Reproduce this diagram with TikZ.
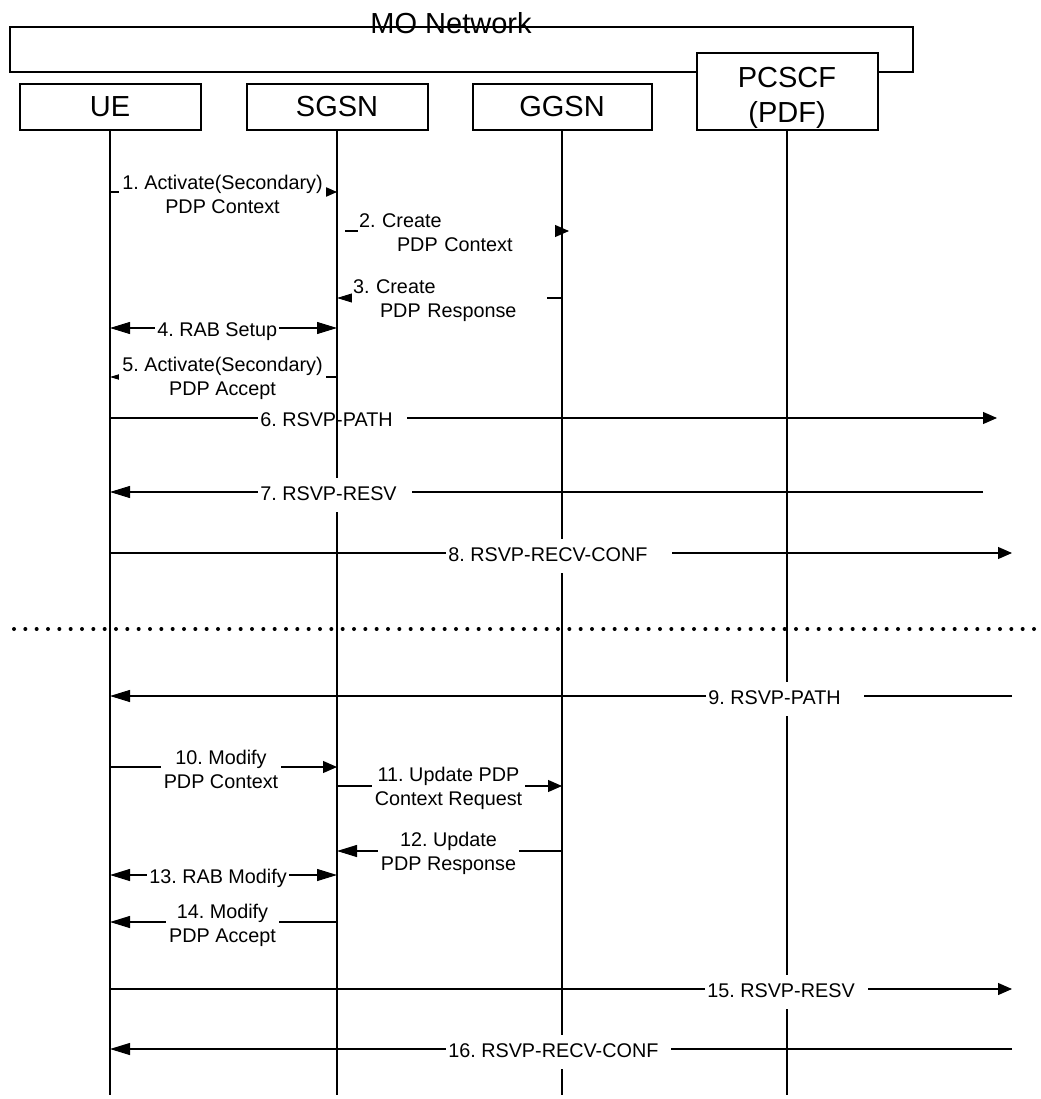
\documentclass[tikz,border=0pt]{standalone}
\usepackage{fontspec}
\setmainfont{Liberation Sans}
\usetikzlibrary{arrows.meta}
\frenchspacing
\begin{document}
\frenchspacing
\begin{tikzpicture}[x=0.75pt,y=-0.75pt,
  box/.style={draw, line width=1.5pt, fill=white, inner sep=0pt},
  life/.style={line width=1.5pt},
  msg/.style={line width=0.8pt},
  hr/.style={-{Triangle[length=10.5pt,width=9pt]}},
  hl/.style={-{Triangle[length=15pt,width=9pt]}},
  hb/.style={{Triangle[length=15pt,width=9pt]}-{Triangle[length=15pt,width=9pt]}},
  lab/.style={fill=white, font=\fontsize{14.85}{18}\selectfont, inner xsep=2.25pt, inner ysep=1.5pt, align=center},
  lab1/.style={fill=white, font=\fontsize{14.85}{18}\selectfont, inner xsep=1.5pt, inner ysep=5.6pt, text height=11.25pt, text depth=3.75pt, anchor=west},
  big/.style={font=\fontsize{21.75}{26.25}\selectfont}
]
\useasboundingbox (0,0) rectangle (1041,1099);

% boxes
\node[box, minimum width=677.25pt, minimum height=33.75pt] (mo) at (461.5,49.5) {};
\node[big, inner sep=0pt] (motitle) at (451,23.5) {MO Network};
\node[box, big, minimum width=135.75pt, minimum height=34.5pt] (ue) at (110,107) {UE};
\node[box, big, minimum width=135.75pt, minimum height=34.5pt] (sgsn) at (337,107) {SGSN};
\node[box, big, minimum width=134.25pt, minimum height=34.5pt] (ggsn) at (562,107) {GGSN};
\node[box, big, align=center, minimum width=135.75pt, minimum height=57.75pt] (pcscf) at (787,91.5) {\rule{0pt}{25pt}PCSCF\\(PDF)};

% lifeline ends
\coordinate (ueB) at (110,1095);
\coordinate (sgsnB) at (337,1095);
\coordinate (ggsnB) at (562,1095);
\coordinate (pcscfB) at (787,1095);

\draw[life] (ue.south) -- (ueB);
\draw[life] (ggsn.south) -- (ggsnB);
\draw[life] (pcscf.south) -- (pcscfB);

% message end points
\coordinate (m1a) at (110,192);  \coordinate (m1b) at (337,192);
\coordinate (m2a) at (345,231);  \coordinate (m2b) at (569,231);
\coordinate (m3a) at (562,298);  \coordinate (m3b) at (337,298);
\coordinate (m4a) at (110,328);  \coordinate (m4b) at (337,328);
\coordinate (m5a) at (337,377);  \coordinate (m5b) at (110,377);
\coordinate (m6a) at (110,418);  \coordinate (m6b) at (997,418);
\coordinate (m7a) at (983,492);  \coordinate (m7b) at (110,492);
\coordinate (m8a) at (110,553);  \coordinate (m8b) at (1012,553);
\coordinate (m9a) at (1012,696); \coordinate (m9b) at (110,696);
\coordinate (m10a) at (110,767); \coordinate (m10b) at (337,767);
\coordinate (m11a) at (337,786); \coordinate (m11b) at (562,786);
\coordinate (m12a) at (562,851); \coordinate (m12b) at (337,851);
\coordinate (m13a) at (110,875); \coordinate (m13b) at (337,875);
\coordinate (m14a) at (337,922); \coordinate (m14b) at (110,922);
\coordinate (m15a) at (110,989); \coordinate (m15b) at (1012,989);
\coordinate (m16a) at (1012,1049); \coordinate (m16b) at (110,1049);

\draw[msg,hr] (m1a) -- (m1b);
\draw[msg,hr] (m2a) -- (m2b);
\draw[msg,hl] (m3a) -- (m3b);
\draw[msg,hb] (m4a) -- (m4b);
\draw[msg,hl] (m5a) -- (m5b);
\draw[msg,hr] (m6a) -- (m6b);
\draw[msg,hl] (m7a) -- (m7b);
\draw[msg,hr] (m8a) -- (m8b);
\draw[msg,hl] (m9a) -- (m9b);
\draw[msg,hr] (m10a) -- (m10b);
\draw[msg,hr] (m11a) -- (m11b);
\draw[msg,hl] (m12a) -- (m12b);
\draw[msg,hb] (m13a) -- (m13b);
\draw[msg,hl] (m14a) -- (m14b);
\draw[msg,hr] (m15a) -- (m15b);
\draw[msg,hl] (m16a) -- (m16b);

% label 6 lies under the SGSN lifeline
\node[lab1] (l6) at (258,421) {6. RSVP-PATH\hspace*{9pt}};
\draw[life] (sgsn.south) -- (sgsnB);

% labels
\node[lab] (l1) at (222.5,194.5) {1. Activate(Secondary)\\PDP Context};
\node[lab, align=left, text width=146.25pt, inner xsep=0.75pt] (l2) at (456.5,233) {2. Create\\\hspace*{28.5pt}PDP Context};
\node[lab, align=left, text width=144.75pt, inner xsep=0.75pt] (l3) at (449.5,300.5) {3. Create\\\hspace*{20.25pt}PDP Response};
\node[lab1] (l4) at (155,331) {4. RAB Setup};
\node[lab] (l5) at (222.5,378.5) {5. Activate(Secondary)\\PDP Accept};
\node[lab1] (l7) at (258,495) {7. RSVP-RESV\hspace*{9.75pt}};
\node[lab1] (l8) at (446,556) {8. RSVP-RECV-CONF\hspace*{17.25pt}};
\node[lab1] (l9) at (706,699) {9. RSVP-PATH\hspace*{15.75pt}};
\node[lab] (l10) at (221,769.5) {10. Modify\\PDP Context};
\node[lab] (l11) at (448.5,788.5) {11. Update PDP\\Context Request};
\node[lab] (l12) at (448.5,853) {12. Update\\PDP Response};
\node[lab1] (l13) at (147,878) {13. RAB Modify};
\node[lab] (l14) at (222.5,925) {14. Modify\\PDP Accept};
\node[lab1] (l15) at (705,992) {15. RSVP-RESV\hspace*{8.25pt}};
\node[lab1] (l16) at (446,1052) {16. RSVP-RECV-CONF\hspace*{8.25pt}};

% separator
\coordinate (dotL) at (14,629);
\coordinate (dotR) at (1041,629);
\draw[line width=3pt, line cap=round, dash pattern=on 0pt off 8.5pt] (dotL) -- (dotR);
\end{tikzpicture}
\end{document}
